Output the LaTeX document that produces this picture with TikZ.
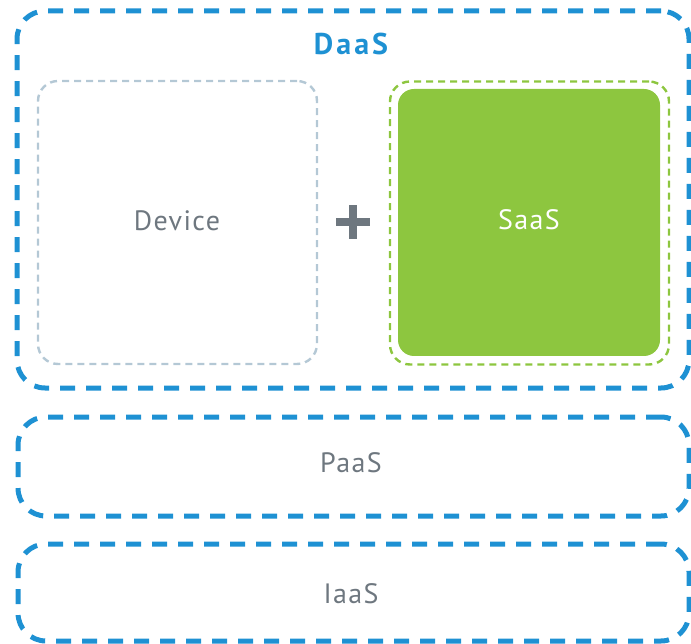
\documentclass[tikz,border=0pt]{standalone}
\usepackage{fontspec}
\setmainfont{PT Sans}
\newfontfamily\labelfont[LetterSpace=5]{PT Sans}
\newfontfamily\titlefont[LetterSpace=10]{PT Sans}
\usetikzlibrary{positioning}

\definecolor{layerblue}{HTML}{1E91D3}
\definecolor{devgray}{HTML}{B4C8D5}
\definecolor{saasgreen}{HTML}{8DC63F}
\definecolor{textgray}{HTML}{6E777F}

\begin{document}
\begin{tikzpicture}[x=1pt, y=-1pt,
	layer/.style={rectangle, rounded corners=28pt, draw=layerblue, line width=5pt, dash pattern=on 15pt off 11pt, inner sep=0pt},
	part/.style={rectangle, rounded corners=20pt, line width=2.4pt, dash pattern=on 7pt off 5pt, inner sep=0pt, minimum width=279pt, minimum height=283pt},
	caption/.style={inner sep=0pt, text=textgray, font=\labelfont\fontsize{28}{32}\selectfont}
	]

	\useasboundingbox (0,0) rectangle (691,644);

	\node (daas) [layer, minimum width=672pt, minimum height=377pt] at (353,199.5) {};
	\node (daaslabel) [caption, text=layerblue, font=\titlefont\bfseries\fontsize{30}{34}\selectfont] at (351,44) {DaaS};

		\node (device) [part, draw=devgray] at (177.5,222.5) {};
		\node (devicelabel) [caption] at (177,221) {Device};

		\node (saasframe) [part, draw=saasgreen] at (529.5,223) {};
		\node (saas) [rectangle, rounded corners=16pt, fill=saasgreen, minimum width=262pt, minimum height=267pt] at (529,222.5) {};
		\node (saaslabel) [caption, text=white] at (529,220) {SaaS};

		\coordinate (plus) at (353,222);
		\draw [textgray, line width=8pt] ([xshift=-17pt]plus) -- ([xshift=17pt]plus);
		\draw [textgray, line width=8pt] ([yshift=-17pt]plus) -- ([yshift=17pt]plus);

	\node (paas) [layer, minimum width=671pt, minimum height=99pt] at (353.5,466.5) {};
	\node (paaslabel) [caption] at (351,462.5) {PaaS};

	\node (iaas) [layer, minimum width=671pt, minimum height=97pt] at (353.5,592.5) {};
	\node (iaaslabel) [caption] at (351,593.5) {IaaS};

\end{tikzpicture}
\end{document}
